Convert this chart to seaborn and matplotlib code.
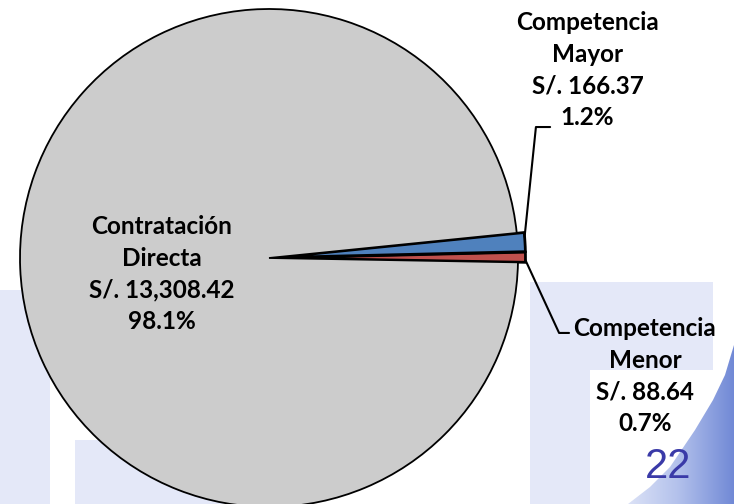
import numpy as np
import matplotlib
matplotlib.use("Agg")
import matplotlib.pyplot as plt
import seaborn as sns
from matplotlib.patches import Rectangle, Polygon
from matplotlib.colors import LinearSegmentedColormap

# Data
categorias = ["Competencia\nMenor", "Competencia\nMayor", "Contratación\nDirecta"]
montos = [88.64, 166.37, 13308.42]
colores = ["#c0504d", "#4f81bd", "#cccccc"]
pagina = "22"

sns.set_theme(style="white")
plt.rcParams["font.family"] = ["Lato", "DejaVu Sans"]

fig = plt.figure(figsize=(7.34, 5.04), dpi=100)

# background watermark (pixel coordinates)
bg = fig.add_axes([0, 0, 1, 1], zorder=0)
bg.set_xlim(0, 734)
bg.set_ylim(504, 0)
bg.axis("off")
lav = "#e4e8f8"
bg.add_patch(Rectangle((530, 282), 60, 222, color=lav, lw=0))
bg.add_patch(Rectangle((530, 282), 183, 88, color=lav, lw=0))
bg.add_patch(Rectangle((0, 290), 50, 214, color=lav, lw=0))
bg.add_patch(Rectangle((75, 440), 200, 64, color=lav, lw=0))
corner = Polygon([(734, 345), (725, 375), (713, 400), (695, 430), (670, 467),
                  (650, 487), (628, 504), (734, 504)], closed=True,
                 facecolor="none", edgecolor="none")
bg.add_patch(corner)
grad = np.linspace(0, 1, 256).reshape(1, -1)
cmap = LinearSegmentedColormap.from_list("g", ["#e2e7f8", "#b4c2ec", "#7189d6"])
im = bg.imshow(grad, extent=(620, 734, 504, 340), cmap=cmap, aspect="auto", zorder=1)
im.set_clip_path(corner)
bg.text(668, 467, pagina, fontsize=30, color="#3a3aa8", ha="center", va="center",
        family=["Liberation Sans", "DejaVu Sans"])

# pie
ax = fig.add_axes([0, 0, 1, 1], zorder=1)
ax.patch.set_alpha(0)
wedges, _ = ax.pie(montos, colors=colores, startangle=-1, counterclock=True,
                   explode=[0.03, 0.03, 0], radius=1,
                   wedgeprops=dict(edgecolor="black", linewidth=1.3))
for w in wedges[:2]:
    w.set_linewidth(2)
ax.set_xlim(-269 / 249, 465 / 249)
ax.set_ylim(-246 / 249, 258 / 249)
ax.set_aspect("auto")
ax.axis("off")

total = sum(montos)
etiquetas = [f"{c}\nS/. {m:,.2f}\n{m / total * 100:.1f}%" for c, m in zip(categorias, montos)]

txt = dict(fontsize=17.5, fontweight="bold", ha="center", va="center",
           linespacing=1.45, color="black")
ax.text(1.510, -0.474, etiquetas[0], **txt)
ax.text(1.279, 0.755, etiquetas[1], **txt)
ax.text(-0.430, -0.064, etiquetas[2], **txt)


def borde(w, ang):
    cx, cy = w.center
    a = np.deg2rad(ang)
    return cx + w.r * np.cos(a), cy + w.r * np.sin(a)


# leader lines
x0, y0 = borde(wedges[1], wedges[1].theta2 - 1)
ax.plot([x0, 1.072, 1.129], [y0, 0.526, 0.526], color="black", lw=1.5)
x0, y0 = borde(wedges[0], wedges[0].theta1 + 0.5)
ax.plot([x0, 1.165, 1.205], [y0, -0.301, -0.301], color="black", lw=1.5)

fig.savefig("out.png", dpi=100)
